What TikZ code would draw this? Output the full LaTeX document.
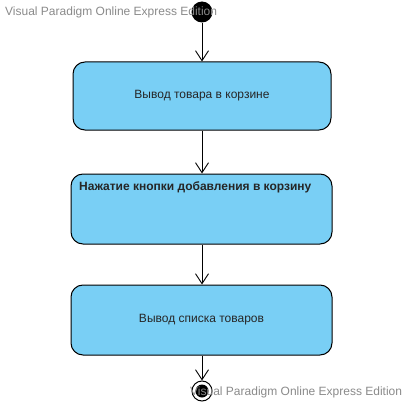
\documentclass[tikz,border=0pt]{standalone}
\usepackage{fontspec}
\setmainfont{Liberation Sans}
\definecolor{actfill}{HTML}{79CFF5}
\definecolor{wmgray}{HTML}{8A8A8A}
\usetikzlibrary{calc, positioning, arrows.meta}

\begin{document}
\begin{tikzpicture}[
  x=1pt, y=-1pt,
  act/.style={draw=black, fill=actfill, rounded corners=12pt, line width=1pt,
              minimum width=261pt, minimum height=70pt, inner sep=0pt,
              font=\fontsize{12}{14}\selectfont, text=black!85},
  flow/.style={draw=black, line width=0.9pt, -{Straight Barb[length=10pt,width=13pt]}},
  wmark/.style={font=\fontsize{12}{14}\selectfont, text=wmgray, inner sep=0pt},
]
\useasboundingbox (0,0) rectangle (407,404);

\node[circle, fill=black, minimum size=21pt, inner sep=0pt] (start) at (202,12) {};
\node[act, minimum width=258pt, minimum height=68pt] (show) at (202,96) {Вывод товара в корзине};
\node[act] (click) at (201.5,209) {};
\node[anchor=west, font=\fontsize{12}{14}\selectfont\bfseries, text=black!85, inner sep=0pt]
  (clicktext) at (79,187) {Нажатие кнопки добавления в корзину};
\node[act] (list) at (201.5,320) {Вывод списка товаров};
\node[circle, draw=black, fill=white, line width=1pt, minimum size=20pt, inner sep=0pt] (stop) at (202,391) {};
\node[circle, fill=black, minimum size=13pt, inner sep=0pt] (stopdot) at (stop.center) {};

\draw[flow] (start) -- (show);
\draw[flow] (show) -- (show |- click.north);
\draw[flow] (show |- click.south) -- (show |- list.north);
\draw[flow] (show |- list.south) -- (stop);

% watermarks
\node[wmark, anchor=west] (wmtop) at (5,12) {Visual Paradigm Online Express Edition};
\node[wmark, anchor=west] (wmbottom) at (190,392) {Visual Paradigm Online Express Edition};
\end{tikzpicture}
\end{document}
